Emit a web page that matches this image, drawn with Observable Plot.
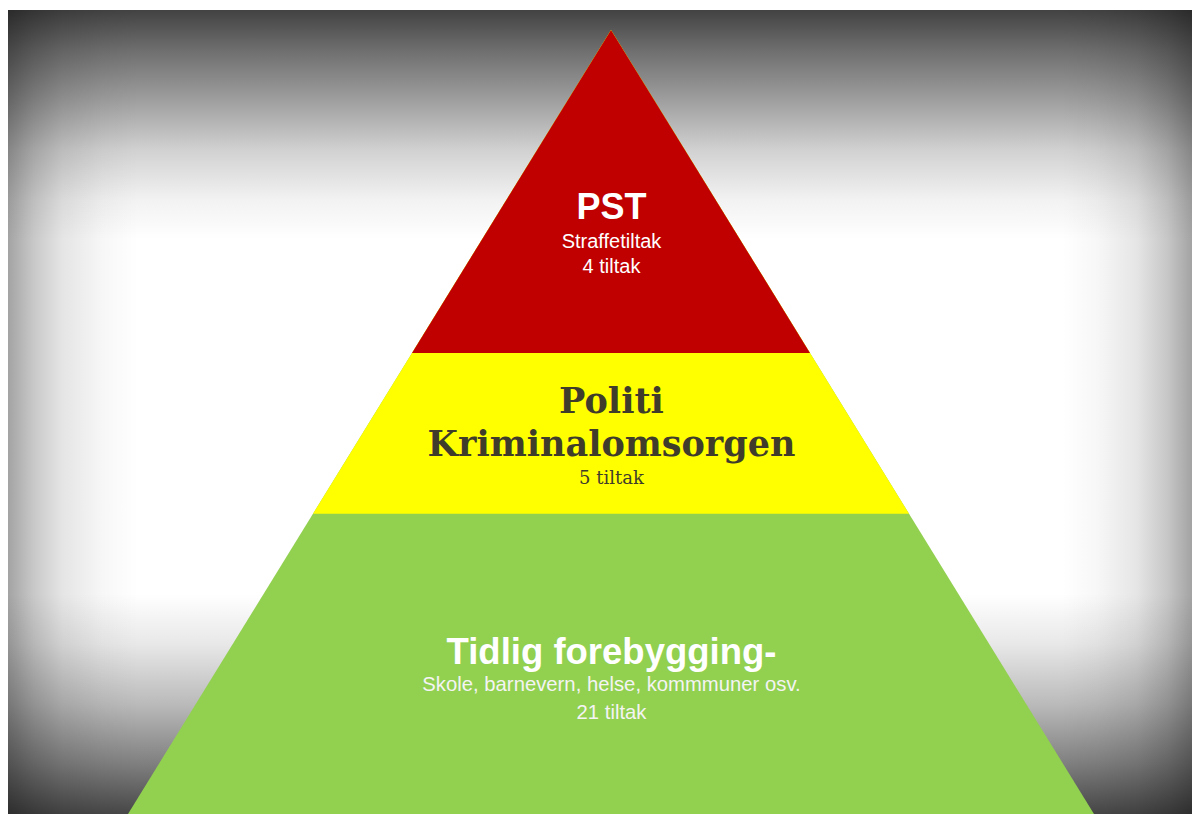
<!DOCTYPE html>
<html>
<head>
<meta charset="utf-8">
<script src="https://cdn.jsdelivr.net/npm/d3@7"></script>
<script src="https://cdn.jsdelivr.net/npm/@observablehq/plot@0.6"></script>
<style>
  html, body { margin: 0; padding: 0; background: #ffffff; }
  #frame {
    position: absolute; left: 8px; top: 10px; width: 1184px; height: 804px;
    background:
      linear-gradient(to bottom, rgba(0,0,0,.74) 0px, rgba(0,0,0,.57) 40px, rgba(0,0,0,.38) 90px, rgba(0,0,0,.18) 140px, rgba(0,0,0,.05) 190px, rgba(0,0,0,0) 230px),
      linear-gradient(to top, rgba(0,0,0,.72) 0px, rgba(0,0,0,.5) 50px, rgba(0,0,0,.27) 110px, rgba(0,0,0,.09) 170px, rgba(0,0,0,0) 220px),
      linear-gradient(to right, rgba(0,0,0,.36) 0px, rgba(0,0,0,.22) 25px, rgba(0,0,0,.1) 55px, rgba(0,0,0,.03) 95px, rgba(0,0,0,0) 130px),
      linear-gradient(to left, rgba(0,0,0,.36) 0px, rgba(0,0,0,.22) 25px, rgba(0,0,0,.1) 55px, rgba(0,0,0,.03) 95px, rgba(0,0,0,0) 130px),
      #ffffff;
  }
  #chart { position: absolute; left: 0; top: 0; }
</style>
</head>
<body>
<div id="frame"></div>
<div id="chart"></div>
<script>
// ---- data ----
const levels = ["PST", "Politi\nKriminalomsorgen", "Tidlig forebygging-"];
const sectors = ["Straffetiltak", "", "Skole, barnevern, helse, kommmuner osv."];
const tiltak = [4, 5, 21];
// share of the pyramid height (apex = 0, base = 1) where each tier begins/ends
const bandEdges = [0, 0.412, 0.617, 1];

// ---- styles ----
const bandColors = ["#c00000", "#ffff00", "#92d050"];
const sans = "Liberation Sans, Arial, sans-serif";
const serif = "DejaVu Serif, Georgia, serif";

// pyramid: draw apex-to-bottom-edge triangles, largest first (no seams)
const shapes = [];
for (let i = levels.length - 1; i >= 0; --i) {
  const b = bandEdges[i + 1];
  shapes.push({band: i, y: 0, x1: 0, x2: 0});
  shapes.push({band: i, y: b, x1: -b, x2: b});
}

const rows = levels.map((name, i) => ({
  band: i, name, sector: sectors[i], count: tiltak[i],
  top: bandEdges[i], x: (-bandEdges[i] + bandEdges[i]) / 2
}));
const sub = (d) => (d.sector ? d.sector + "\n" : "") + d.count + " tiltak";

const titleStyle = [
  {fontFamily: sans, fontSize: 36, fontWeight: "bold", fill: "#ffffff", dy: 188, lineHeight: 1},
  {fontFamily: serif, fontSize: 35, fontWeight: "bold", fill: "#403c2c", dy: 102, lineHeight: 43 / 35},
  {fontFamily: sans, fontSize: 36.5, fontWeight: "bold", fill: "#ffffff", dy: 150, lineHeight: 1}
];
const subStyle = [
  {fontFamily: sans, fontSize: 20, fill: "#ffffff", dy: 242, lineHeight: 1.25},
  {fontFamily: serif, fontSize: 18, fill: "#403c2c", dy: 130, lineHeight: 1.2},
  {fontFamily: sans, fontSize: 20.3, fill: "#f4f4f4", dy: 205, lineHeight: 28 / 20.3}
];

const textMarks = [];
rows.forEach((r, i) => {
  textMarks.push(Plot.text([r], {x: "x", y: "top", text: "name", lineAnchor: "bottom", textAnchor: "middle", ...titleStyle[i]}));
  textMarks.push(Plot.text([r], {x: "x", y: "top", text: sub, lineAnchor: "bottom", textAnchor: "middle", ...subStyle[i]}));
});

const chart = Plot.plot({
  width: 1192,
  height: 814,
  margin: 0,
  style: {background: "transparent", overflow: "visible"},
  x: {type: "linear", domain: [-1, 1], range: [128, 1094], axis: null},
  y: {type: "linear", domain: [0, 1], range: [30, 814], axis: null},
  color: {type: "identity"},
  marks: [
    Plot.areaX(shapes, {y: "y", x1: "x1", x2: "x2", z: "band", fill: (d) => bandColors[d.band], curve: "linear"}),
    ...textMarks
  ]
});
document.getElementById("chart").appendChild(chart);
</script>
</body>
</html>
